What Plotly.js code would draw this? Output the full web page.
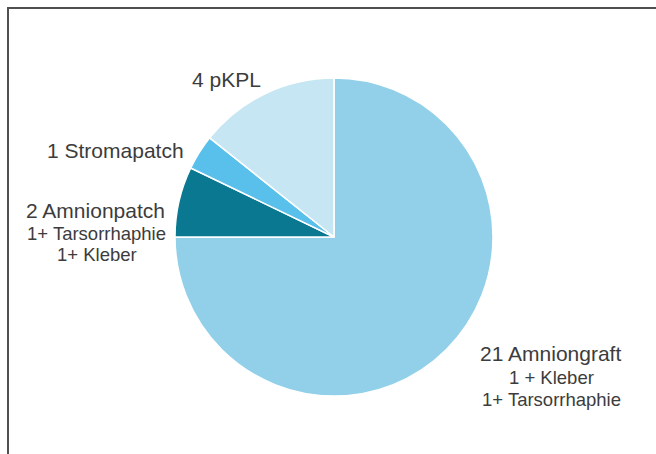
<!DOCTYPE html>
<html>
<head>
<meta charset="utf-8">
<script src="https://cdn.plot.ly/plotly-3.0.1.min.js"></script>
<style>html,body{margin:0;padding:0;background:#fff;}#chart{width:656px;height:454px;}</style>
</head>
<body>
<div id="chart"></div>
<script>
// Data
const categories = ["Amniongraft", "Amnionpatch", "Stromapatch", "pKPL"];
const values = [21, 2, 1, 4];
const mainLabels = ["21 Amniongraft", "2 Amnionpatch", "1 Stromapatch", "4 pKPL"];
const subLabels = [["1 + Kleber", "1+ Tarsorrhaphie"], ["1+ Tarsorrhaphie", "1+ Kleber"], [], []];
const sliceColors = ["#92d0ea", "#0a7890", "#58c0ea", "#c6e6f3"];

const W = 656, H = 454;
const px = x => x / W;
const py = y => 1 - y / H;

// label anchor positions (pixel centres) for each category: main line, then sub lines
const labelPos = [
  {x: 550, y: 353, sub: [[551, 377], [551, 399]]},
  {x: 95, y: 210, sub: [[96, 233], [97, 254]]},
  {x: 115, y: 150, sub: []},
  {x: 227, y: 79, sub: []}
];

const annotations = [];
const textColor = "#3c3c3c";
mainLabels.forEach((t, i) => {
  const p = labelPos[i];
  annotations.push({text: t, x: px(p.x), y: py(p.y), xref: "paper", yref: "paper",
    xanchor: "center", yanchor: "middle", showarrow: false,
    font: {family: "Liberation Sans, Arial, sans-serif", size: 21, color: textColor}});
  subLabels[i].forEach((s, j) => {
    annotations.push({text: s, x: px(p.sub[j][0]), y: py(p.sub[j][1]), xref: "paper", yref: "paper",
      xanchor: "center", yanchor: "middle", showarrow: false,
      font: {family: "Liberation Sans, Arial, sans-serif", size: 18.5, color: textColor}});
  });
});

const trace = {
  type: "pie",
  labels: categories,
  values: values,
  sort: false,
  direction: "clockwise",
  rotation: 0,
  textinfo: "none",
  hoverinfo: "label+value",
  marker: {colors: sliceColors, line: {color: "#ffffff", width: 1.5}},
  domain: {x: [px(175), px(493)], y: [py(396), py(78)]}
};

const layout = {
  width: W, height: H,
  margin: {l: 0, r: 0, t: 0, b: 0},
  paper_bgcolor: "#ffffff",
  showlegend: false,
  annotations: annotations,
  shapes: [
    {type: "line", xref: "paper", yref: "paper", x0: px(7), x1: 1.01, y0: py(8), y1: py(8), line: {color: "#505050", width: 2}},
    {type: "line", xref: "paper", yref: "paper", x0: px(8), x1: px(8), y0: py(7), y1: -0.01, line: {color: "#505050", width: 2}}
  ]
};

Plotly.newPlot("chart", [trace], layout, {displayModeBar: false, staticPlot: true});
</script>
</body>
</html>
